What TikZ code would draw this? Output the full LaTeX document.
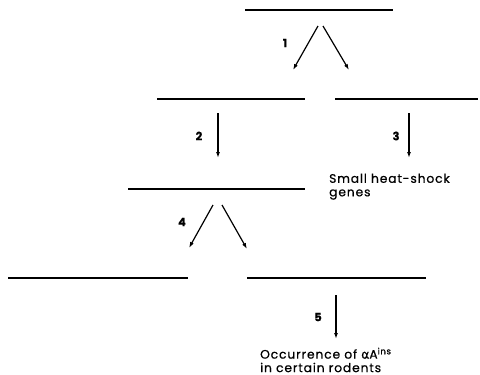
\documentclass[tikz,border=0pt]{standalone}
\usepackage{fontspec}
\setmainfont{Poppins}[LetterSpace=7, FakeBold=0.6]
\newfontfamily\greekfont{DejaVu Sans}[FakeBold=0.6]
\usetikzlibrary{arrows.meta,positioning}

\begin{document}
\begin{tikzpicture}[
  x=1pt, y=-1pt,
  >={Latex[length=6pt,width=4pt]},
  font=\fontsize{12.3}{13.5}\selectfont,
  gene/.style={line width=1.9pt},
  path/.style={->, line width=1.2pt},
  numlabel/.style={font=\fontsize{11.5}{13}\selectfont\bfseries}
]
  \useasboundingbox (0,0) rectangle (480,375);
  \clip (0,0) rectangle (480,375);

  % Gene lines, top to bottom
  \coordinate (g0w) at (245,10);  \coordinate (g0e) at (393,10);
  \coordinate (g1w) at (157,99);  \coordinate (g1e) at (305,99);
  \coordinate (g2w) at (335,99);  \coordinate (g2e) at (478,99);
  \coordinate (g3w) at (128,189); \coordinate (g3e) at (305,189);
  \coordinate (g4w) at (8,278);   \coordinate (g4e) at (188,278);
  \coordinate (g5w) at (247,278); \coordinate (g5e) at (426,278);
  \foreach \g in {0,...,5}
    \draw[gene] (g\g w) -- (g\g e);

  % Step 1: duplication
  \coordinate (s1a) at (318,26); \coordinate (s1l) at (293,70);
  \coordinate (s1b) at (323,26); \coordinate (s1r) at (349,70);
  \draw[path] (s1a) -- (s1l);
  \draw[path] (s1b) -- (s1r);
  \node[numlabel] (n1) at (285,43) {1};

  % Steps 2 and 3
  \coordinate (s2a) at (218,113); \coordinate (s2b) at (218,158);
  \coordinate (s3a) at (409,113); \coordinate (s3b) at (409,158);
  \draw[path] (s2a) -- (s2b);
  \draw[path] (s3a) -- (s3b);
  \node[numlabel] (n2) at (199,136) {2};
  \node[numlabel] (n3) at (396,136) {3};
  \node[anchor=north west, align=left, inner sep=0pt] (hsp) at (329,173.5)
    {Small heat-shock\\genes};

  % Step 4: second duplication
  \coordinate (s4a) at (213,205); \coordinate (s4l) at (189,248);
  \coordinate (s4b) at (222,205); \coordinate (s4r) at (247,249);
  \draw[path] (s4a) -- (s4l);
  \draw[path] (s4b) -- (s4r);
  \node[numlabel] (n4) at (182,222) {4};

  % Step 5: insertion
  \coordinate (s5a) at (336,295); \coordinate (s5b) at (336,339);
  \draw[path] (s5a) -- (s5b);
  \node[numlabel] (n5) at (318,317) {5};
  \node[anchor=north west, align=left, inner sep=0pt] (ins) at (260,347.5)
    {Occurrence of {\greekfont α}A\textsuperscript{ins}\\in certain rodents};
\end{tikzpicture}
\end{document}
